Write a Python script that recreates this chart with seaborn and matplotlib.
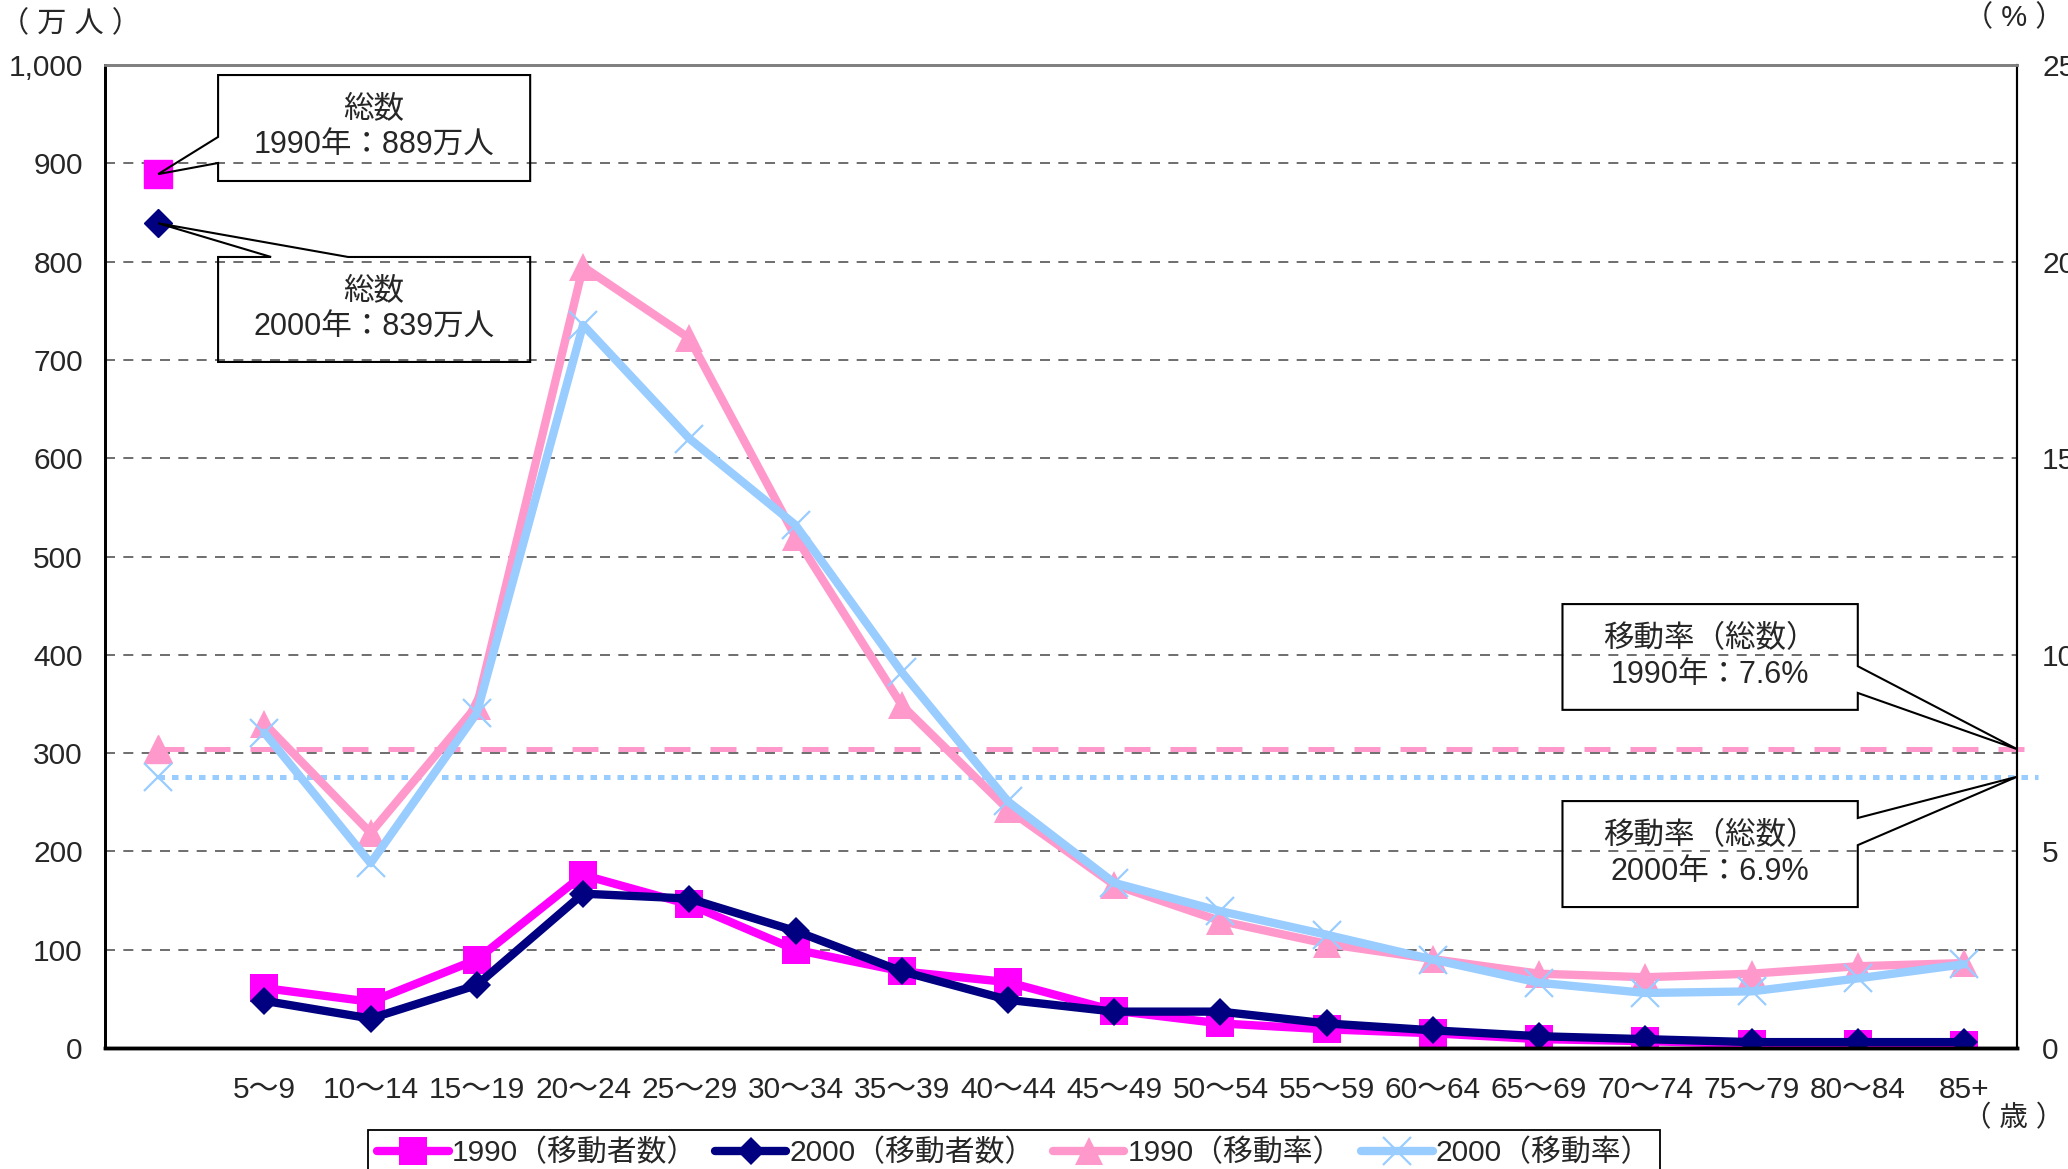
import numpy as np
import matplotlib
matplotlib.use("Agg")
import matplotlib.pyplot as plt
import seaborn as sns
from matplotlib.patches import Polygon
from matplotlib.ticker import FuncFormatter, MultipleLocator

# data
age_groups = ['5～9', '10～14', '15～19', '20～24', '25～29', '30～34', '35～39',
              '40～44', '45～49', '50～54', '55～59', '60～64', '65～69', '70～74',
              '75～79', '80～84', '85+']
count_1990 = [61, 47, 90, 176, 146, 100, 78, 67, 38, 25, 19, 15, 9, 7, 4, 4, 3]
count_2000 = [48, 30, 64, 157, 152, 119, 78, 49, 37, 37, 25, 18, 12, 9, 6, 6, 6]
rate_1990 = [8.25, 5.47, 8.7, 19.87, 18.05, 13.0, 8.72, 6.07, 4.15, 3.23, 2.65,
             2.26, 1.89, 1.8, 1.89, 2.08, 2.16]
rate_2000 = [8.02, 4.7, 8.52, 18.39, 15.5, 13.3, 9.56, 6.27, 4.2, 3.48, 2.88,
             2.25, 1.66, 1.4, 1.44, 1.77, 2.13]
total_count_1990 = 889
total_count_2000 = 839
total_rate_1990 = 7.6
total_rate_2000 = 6.9

MAGENTA = '#FF00FF'
NAVY = '#000080'
PINK = '#FF99CC'
SKY = '#99CCFF'

sns.set_style("white")
plt.rcParams['font.family'] = ['Liberation Sans', 'Noto Sans CJK JP']
plt.rcParams['font.size'] = 21

fig = plt.figure(figsize=(20.68, 11.69), dpi=100)
ax = fig.add_axes([0.0508, 0.1035, 0.9246, 0.8409])
ax2 = ax.twinx()

x_age = np.arange(1, len(age_groups) + 1)

# counts (left axis)
sns.lineplot(x=x_age, y=count_1990, ax=ax, color=MAGENTA, lw=6, marker='s',
             markersize=20, markeredgecolor=MAGENTA, markeredgewidth=0,
             label='1990（移動者数）', legend=False)
sns.lineplot(x=x_age, y=count_2000, ax=ax, color=NAVY, lw=6, marker='D',
             markersize=14.5, markeredgecolor=NAVY, markeredgewidth=0,
             label='2000（移動者数）', legend=False)
ax.plot([0], [total_count_1990], marker='s', markersize=20, color=MAGENTA, lw=0)
ax.plot([0], [total_count_2000], marker='D', markersize=14.5, color=NAVY, lw=0)

# rates (right axis)
ax2.plot([0, 17.7], [total_rate_1990] * 2, color=PINK, lw=3.6,
         ls=(0, (5.2, 4)), dash_capstyle='butt', clip_on=False)
ax2.plot([0, 17.7], [total_rate_2000] * 2, color=SKY, lw=3.6,
         ls=(0, (1.3, 1.4)), dash_capstyle='butt', clip_on=False)
sns.lineplot(x=x_age, y=rate_1990, ax=ax2, color=PINK, lw=6, marker='^',
             markersize=20, markeredgecolor=PINK, markeredgewidth=0,
             label='1990（移動率）', legend=False)
sns.lineplot(x=x_age, y=rate_2000, ax=ax2, color=SKY, lw=6, marker='x',
             markersize=20, markeredgecolor=SKY, markeredgewidth=1.6,
             label='2000（移動率）', legend=False)
ax2.plot([0], [total_rate_1990], marker='^', markersize=20, color=PINK, lw=0)
ax2.plot([0], [total_rate_2000], marker='x', markersize=20, color=SKY,
         markeredgewidth=1.6, lw=0)

# axes
ax.set_xlim(-0.5, 17.5)
ax.set_ylim(0, 1000)
ax2.set_ylim(0, 25)
ax.yaxis.set_major_locator(MultipleLocator(100))
ax.yaxis.set_major_formatter(FuncFormatter(lambda v, p: f'{int(v):,}'))
ax2.yaxis.set_major_locator(MultipleLocator(5))
ax.set_xticks(np.arange(18))
ax.set_xticklabels([''] + age_groups)
ax.set_xticks(np.arange(0.5, 17), minor=True)
ax.tick_params(axis='x', which='major', length=0, pad=20, labelsize=21.5)
ax.tick_params(axis='x', which='minor', length=10, width=1.2, direction='in',
               color='black')
ax.tick_params(axis='y', length=0, pad=16, labelsize=21.5)
ax2.tick_params(axis='y', length=0, pad=18, labelsize=21.5)
for y in range(100, 1000, 100):
    ax.axhline(y, color='#555555', lw=1.2, ls=(0, (6, 5)), zorder=0)
for a in (ax, ax2):
    a.spines['top'].set_color('#808080')
    a.spines['top'].set_linewidth(2)
    a.spines['left'].set_color('black')
    a.spines['left'].set_linewidth(2)
    a.spines['bottom'].set_color('black')
    a.spines['bottom'].set_linewidth(2.5)
    a.spines['right'].set_color('black')
    a.spines['right'].set_linewidth(1.5)
    a.grid(False)

# callouts
def callout(axis, verts, text, cx, cy):
    axis.add_patch(Polygon(verts, closed=True, fill=False, edgecolor='black',
                           lw=1.5, clip_on=False, zorder=5))
    axis.text(cx, cy, text, ha='center', va='center', fontsize=22,
              linespacing=1.25, zorder=6)

x0, x1 = 0.564, 3.502
callout(ax, [(x0, 989.8), (x1, 989.8), (x1, 882.0), (x0, 882.0), (x0, 900.3),
             (0, total_count_1990), (x0, 926.8)],
        '総数\n1990年：889万人', (x0 + x1) / 2, 936)
callout(ax, [(x0, 804.7), (1.063, 804.7), (0, total_count_2000), (1.788, 804.7),
             (x1, 804.7), (x1, 697.9), (x0, 697.9)],
        '総数\n2000年：839万人', (x0 + x1) / 2, 751)
b0, b1 = 13.22, 16.0
callout(ax2, [(b0, 11.29), (b1, 11.29), (b1, 9.71), (17.5, total_rate_1990),
              (b1, 9.03), (b1, 8.6), (b0, 8.6)],
        '移動率（総数）\n1990年：7.6%', (b0 + b1) / 2, 9.95)
callout(ax2, [(b0, 6.28), (b1, 6.28), (b1, 5.85), (17.5, total_rate_2000),
              (b1, 5.16), (b1, 3.585), (b0, 3.585)],
        '移動率（総数）\n2000年：6.9%', (b0 + b1) / 2, 4.93)

# unit labels
fig.text(0 / 2068, 1 - 24 / 1169, '（ 万 人 ）', ha='left', va='center', fontsize=21)
fig.text(2064 / 2068, 1 - 18 / 1169, '（ % ）', ha='right', va='center', fontsize=21)
fig.text(2064 / 2068, 1 - 1119 / 1169, '（ 歳 ）', ha='right', va='center', fontsize=20.5)

# legend
handles = ax.get_lines()[:2] + ax2.get_lines()[2:4]
labels = ['1990（移動者数）', '2000（移動者数）', '1990（移動率）', '2000（移動率）']
leg = fig.legend(handles, labels, loc='center', bbox_to_anchor=(0.4903, 0.0135),
                 ncol=4, fontsize=21.5, frameon=True, fancybox=False,
                 edgecolor='black', framealpha=1, borderpad=0.3,
                 handlelength=2.4, handletextpad=0.1, columnspacing=0.6,
                 borderaxespad=0)
leg.get_frame().set_linewidth(1.3)

fig.savefig('out.png', dpi=100)
